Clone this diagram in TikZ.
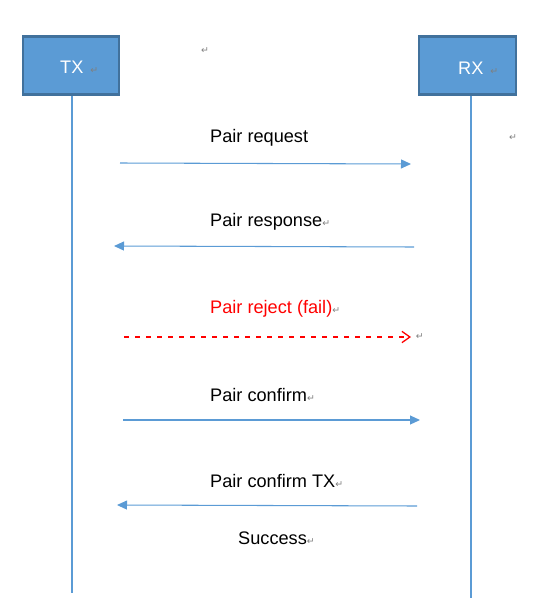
\documentclass[tikz,border=0pt]{standalone}
\usepackage{fontspec}
\setmainfont{Liberation Sans}
\newfontfamily\symfont{DejaVu Sans}
\usepackage{xcolor}
\usetikzlibrary{arrows.meta,positioning}

\definecolor{boxfill}{HTML}{5B9BD5}
\definecolor{boxedge}{HTML}{41719C}
\definecolor{msgblue}{HTML}{5B9BD5}
\definecolor{markgray}{HTML}{7F7F7F}
\definecolor{failred}{HTML}{FF0000}
\newcommand{\retmark}{{\symfont\fontsize{8}{8}\selectfont\color{markgray}↵}}

\begin{document}
\begin{tikzpicture}[
  x=0.03cm, y=-0.03cm,
  font=\fontsize{15.5}{18}\selectfont,
  actor/.style={draw=boxedge, fill=boxfill, line width=1.8pt, minimum width=2.9cm, minimum height=1.74cm},
  actorlab/.style={text=white, anchor=west, inner sep=0pt},
  lifeline/.style={draw=msgblue, line width=0.9pt},
  msg/.style={draw=msgblue, line width=0.9pt, -{Triangle[length=0.3cm, width=0.27cm]}},
  failmsg/.style={failred, line width=1.1pt, dash pattern=on 0.14cm off 0.19cm, -{Straight Barb[length=0.24cm, width=0.34cm]}},
  msglab/.style={anchor=west, inner sep=0pt},
  parmark/.style={inner sep=0pt}
]
\useasboundingbox (0,0) rectangle (547,615);

% actors and lifelines
\node[actor] (tx) at (71,65.5) {};
\node[actorlab] (txlab) at (60,67) {TX\hspace{6pt}\retmark};
\node[actor] (rx) at (467.5,65.5) {};
\node[actorlab] (rxlab) at (458,68) {RX\hspace{6pt}\retmark};
\coordinate (txend) at (72,593);
\coordinate (rxend) at (471,598);
\draw[lifeline] (tx.south -| txend) -- (txend);
\draw[lifeline] (rx.south -| rxend) -- (rxend);

% stray paragraph marks
\foreach \mx/\my [count=\i] in {205/51,513/138} {
  \node[parmark] (pm\i) at (\mx,\my) {\retmark};
}

% messages
\node[msglab] (req) at (210,138) {Pair request};
\coordinate (req-s) at (120,163);
\coordinate (req-e) at (411,164);
\draw[msg] (req-s) -- (req-e);

\node[msglab] (resp) at (210,222) {Pair response\retmark};
\coordinate (resp-s) at (414,247);
\coordinate (resp-e) at (114,246);
\draw[msg] (resp-s) -- (resp-e);

\node[msglab, text=failred] (rej) at (210,309) {Pair reject (fail)\retmark};
\coordinate (rej-s) at (124,337);
\coordinate (rej-e) at (411,337);
\draw[failmsg] (rej-s) -- (rej-e);
\node[parmark, right=4pt of rej-e] (rejmark) {\retmark};

\node[msglab] (conf) at (210,395) {Pair confirm\retmark};
\coordinate (conf-s) at (123,420);
\coordinate (conf-e) at (420,420);
\draw[msg] (conf-s) -- (conf-e);

\node[msglab] (conftx) at (210,481) {Pair confirm TX\retmark};
\coordinate (conftx-s) at (417,506);
\coordinate (conftx-e) at (117,505);
\draw[msg] (conftx-s) -- (conftx-e);

\node[msglab] (succ) at (238,538) {Success\retmark};
\end{tikzpicture}
\end{document}
